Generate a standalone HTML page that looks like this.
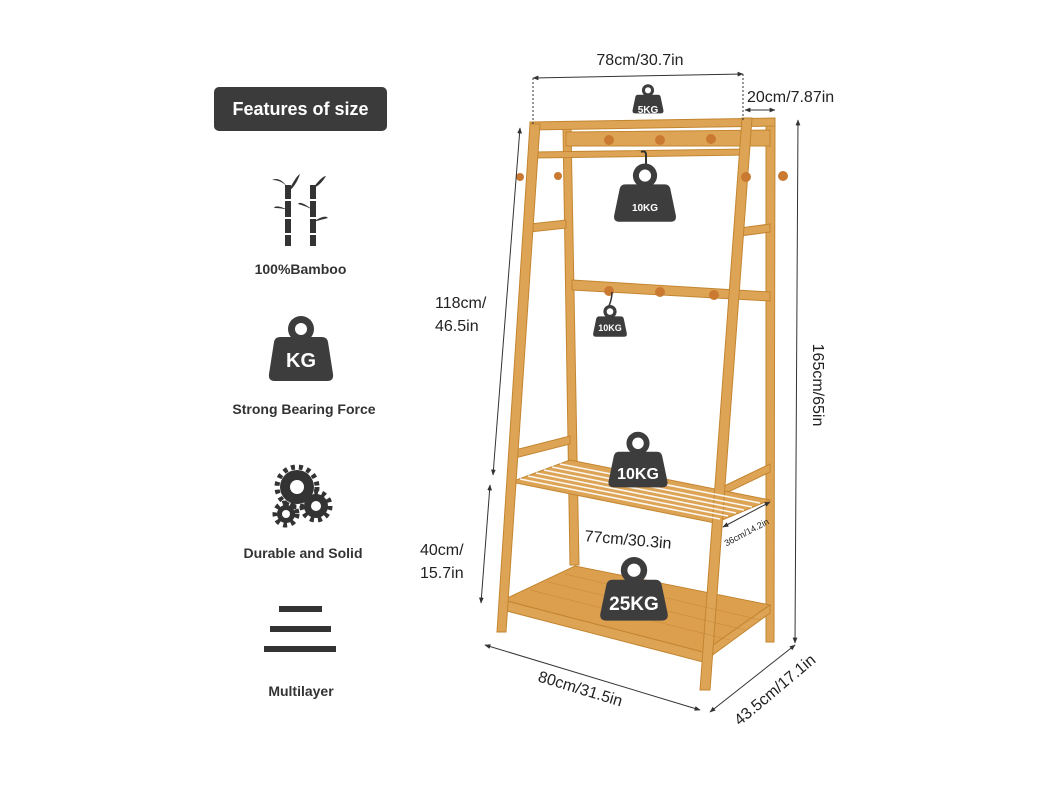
<!DOCTYPE html>
<html><head><meta charset="utf-8"><style>
html,body{margin:0;padding:0;background:#fff;}
body{width:1051px;height:788px;overflow:hidden;font-family:"Liberation Sans",sans-serif;}
</style></head><body>
<svg width="1051" height="788" viewBox="0 0 1051 788" xmlns="http://www.w3.org/2000/svg">
<defs>
<g id="wt">
<circle cx="0" cy="-14" r="11" fill="#3d3d3d"/>
<circle cx="0" cy="-14" r="5.5" fill="#fff"/>
<path d="M-18,-6 L18,-6 Q22,-6 23,-2 L28,22 Q29,28 23,28 L-23,28 Q-29,28 -28,22 L-23,-2 Q-22,-6 -18,-6Z" fill="#3d3d3d"/>
</g>
<marker id="ar" viewBox="0 0 10 10" refX="9" refY="5" markerWidth="6" markerHeight="6" orient="auto-start-reverse"><path d="M0,1 L10,5 L0,9Z" fill="#333"/></marker>
</defs>
<!-- left panel -->
<rect x="214" y="87" width="173" height="44" rx="5" fill="#3b3b3b"/>
<text x="300.5" y="115" font-size="18" font-weight="bold" fill="#fff" text-anchor="middle">Features of size</text>
<!-- bamboo -->
<g stroke="#333" stroke-width="6" fill="none">
<line x1="288" y1="185" x2="288" y2="246"/><line x1="313" y1="185" x2="313" y2="246"/>
</g>
<g stroke="#fff" stroke-width="2">
<line x1="284" y1="200" x2="292" y2="200"/><line x1="284" y1="218" x2="292" y2="218"/><line x1="284" y1="234" x2="292" y2="234"/>
<line x1="309" y1="200" x2="317" y2="200"/><line x1="309" y1="218" x2="317" y2="218"/><line x1="309" y1="234" x2="317" y2="234"/>
</g>
<g fill="#333"><path d="M288,188 Q280,176 272,180 Q282,180 288,188Z"/><path d="M288,192 Q296,176 300,174 Q296,186 288,192Z"/><path d="M313,188 Q322,176 326,176 Q320,186 313,188Z"/><path d="M313,210 Q300,200 298,204 Q306,206 313,210Z"/><path d="M288,210 Q276,204 274,208 Q282,208 288,210Z"/><path d="M313,222 Q325,214 328,218 Q320,220 313,222Z"/></g>
<text x="300.5" y="274" font-size="14" font-weight="bold" fill="#333" text-anchor="middle">100%Bamboo</text>
<!-- KG -->
<circle cx="301" cy="329" r="13" fill="#3d3d3d"/><circle cx="301" cy="329" r="6" fill="#fff"/>
<path d="M280,337 L322,337 Q327,337 328,342 L333,374 Q334,381 327,381 L275,381 Q268,381 269,374 L274,342 Q275,337 280,337Z" fill="#3d3d3d"/>
<text x="301" y="367" font-size="20" font-weight="bold" fill="#fff" text-anchor="middle">KG</text>
<text x="304" y="414" font-size="14" font-weight="bold" fill="#333" text-anchor="middle">Strong Bearing Force</text>
<!-- gears -->
<g fill="#333">
<circle cx="297" cy="487" r="17"/><circle cx="316" cy="506" r="12"/><circle cx="286" cy="514" r="9"/>
</g>
<g stroke="#333" stroke-width="5" stroke-dasharray="4 4"><circle cx="297" cy="487" r="20" fill="none"/><circle cx="316" cy="506" r="14" fill="none"/><circle cx="286" cy="514" r="11" fill="none"/></g>
<circle cx="297" cy="487" r="7" fill="#fff"/><circle cx="316" cy="506" r="5" fill="#fff"/><circle cx="286" cy="514" r="4" fill="#fff"/>
<text x="303" y="558" font-size="14" font-weight="bold" fill="#333" text-anchor="middle">Durable and Solid</text>
<!-- multilayer -->
<rect x="279" y="606" width="43" height="6" fill="#333"/>
<rect x="270" y="626" width="61" height="6" fill="#333"/>
<rect x="264" y="646" width="72" height="6" fill="#333"/>
<text x="301" y="696" font-size="14" font-weight="bold" fill="#333" text-anchor="middle">Multilayer</text>

<!-- rack -->
<g fill="#dea456" stroke="#c3852f" stroke-width="1">
<polygon points="563,128 571,128 579,565 570,565"/>
<polygon points="766,120 775,120 774,642 766,642"/>
<polygon points="530,122 775,118 775,126 530,130"/>
<polygon points="566,132 770,130 770,146 566,146"/>
<polygon points="533,152 748,149 748,155 533,158"/>
<polygon points="530,224 566,220 566,228 530,232"/>
<polygon points="740,228 770,224 770,232 740,236"/>
<polygon points="572,280 770,292 770,301 572,290"/>
<polygon points="515,450 570,436 570,444 515,458"/>
<polygon points="720,488 770,464 770,472 720,496"/>
<polygon points="511,482 570,460 770,500 715,523"/>
<polygon points="503,600 575,566 770,605 703,652" fill="#dc9f4e"/>
<polygon points="503,600 703,652 703,662 503,610"/>
<polygon points="703,652 770,605 770,613 703,662"/>
<polygon points="530,124 540,124 506,632 497,632"/>
<polygon points="742,118 752,118 710,690 700,690"/>
</g>
<g stroke="#fff" stroke-width="1.6" opacity="0.9">
<line x1="520" y1="479" x2="720" y2="519"/><line x1="528" y1="476" x2="728" y2="516"/><line x1="536" y1="473" x2="736" y2="513"/><line x1="544" y1="470" x2="744" y2="510"/><line x1="552" y1="467" x2="752" y2="507"/><line x1="560" y1="464" x2="760" y2="503"/>
</g>
<g stroke="#c08030" stroke-width="0.8" opacity="0.5">
<line x1="530" y1="590" x2="730" y2="640"/><line x1="548" y1="582" x2="745" y2="630"/><line x1="565" y1="574" x2="760" y2="620"/>
</g>
<g fill="#c97a30">
<circle cx="609" cy="140" r="5"/><circle cx="660" cy="140" r="5"/><circle cx="711" cy="139" r="5"/>
<circle cx="609" cy="291" r="5"/><circle cx="660" cy="292" r="5"/><circle cx="714" cy="295" r="5"/>
<circle cx="520" cy="177" r="4"/><circle cx="558" cy="176" r="4"/><circle cx="746" cy="177" r="5"/><circle cx="783" cy="176" r="5"/>
</g>
<path d="M646,165 L646,155 Q646,150 641,152" stroke="#333" stroke-width="2" fill="none"/>
<path d="M612,292 Q612,300 608,308" stroke="#333" stroke-width="1.5" fill="none"/>
<g transform="translate(648,98) scale(0.55)"><use href="#wt"/></g>
<text x="648" y="113" font-size="10" font-weight="bold" fill="#fff" text-anchor="middle">5KG</text>
<g transform="translate(645,191) scale(1.1)"><use href="#wt"/></g>
<text x="645" y="211" font-size="10" font-weight="bold" fill="#fff" text-anchor="middle">10KG</text>
<g transform="translate(610,320) scale(0.6)"><use href="#wt"/></g>
<text x="610" y="331" font-size="9" font-weight="bold" fill="#fff" text-anchor="middle">10KG</text>
<g transform="translate(638,458) scale(1.05)"><use href="#wt"/></g>
<text x="638" y="479" font-size="16" font-weight="bold" fill="#fff" text-anchor="middle">10KG</text>
<g transform="translate(634,587) scale(1.2)"><use href="#wt"/></g>
<text x="634" y="610" font-size="19" font-weight="bold" fill="#fff" text-anchor="middle">25KG</text>
<g stroke="#333" stroke-width="1" fill="none">
<line x1="533" y1="78" x2="743" y2="74" marker-start="url(#ar)" marker-end="url(#ar)"/>
<line x1="533" y1="78" x2="533" y2="124" stroke-dasharray="2 2"/>
<line x1="743" y1="74" x2="743" y2="120" stroke-dasharray="2 2"/>
<line x1="745" y1="110" x2="775" y2="110" marker-start="url(#ar)" marker-end="url(#ar)"/>
<line x1="520" y1="128" x2="493" y2="475" marker-start="url(#ar)" marker-end="url(#ar)"/>
<line x1="490" y1="485" x2="481" y2="603" marker-start="url(#ar)" marker-end="url(#ar)"/>
<line x1="798" y1="120" x2="795" y2="643" marker-start="url(#ar)" marker-end="url(#ar)"/>
<line x1="485" y1="645" x2="700" y2="710" marker-start="url(#ar)" marker-end="url(#ar)"/>
<line x1="710" y1="712" x2="795" y2="645" marker-start="url(#ar)" marker-end="url(#ar)"/>
<line x1="723" y1="527" x2="770" y2="502" marker-start="url(#ar)" marker-end="url(#ar)"/>
</g>
<g font-size="16" fill="#222">
<text x="640" y="65" text-anchor="middle">78cm/30.7in</text>
<text x="747" y="102">20cm/7.87in</text>
<text x="435" y="308">118cm/</text>
<text x="435" y="331">46.5in</text>
<text x="420" y="555">40cm/</text>
<text x="420" y="578">15.7in</text>
<text x="628" y="545" text-anchor="middle" transform="rotate(5 628 540)">77cm/30.3in</text>
<text x="580" y="694" transform="rotate(17 580 690)" text-anchor="middle">80cm/31.5in</text>
<text x="775" y="695" transform="rotate(-40 775 690)" text-anchor="middle">43.5cm/17.1in</text>
<text x="813" y="385" transform="rotate(90 813 385)" text-anchor="middle">165cm/65in</text>
<text x="748" y="535" font-size="9" transform="rotate(-28 748 535)" text-anchor="middle">36cm/14.2in</text>
</g>
</svg>
</body></html>
